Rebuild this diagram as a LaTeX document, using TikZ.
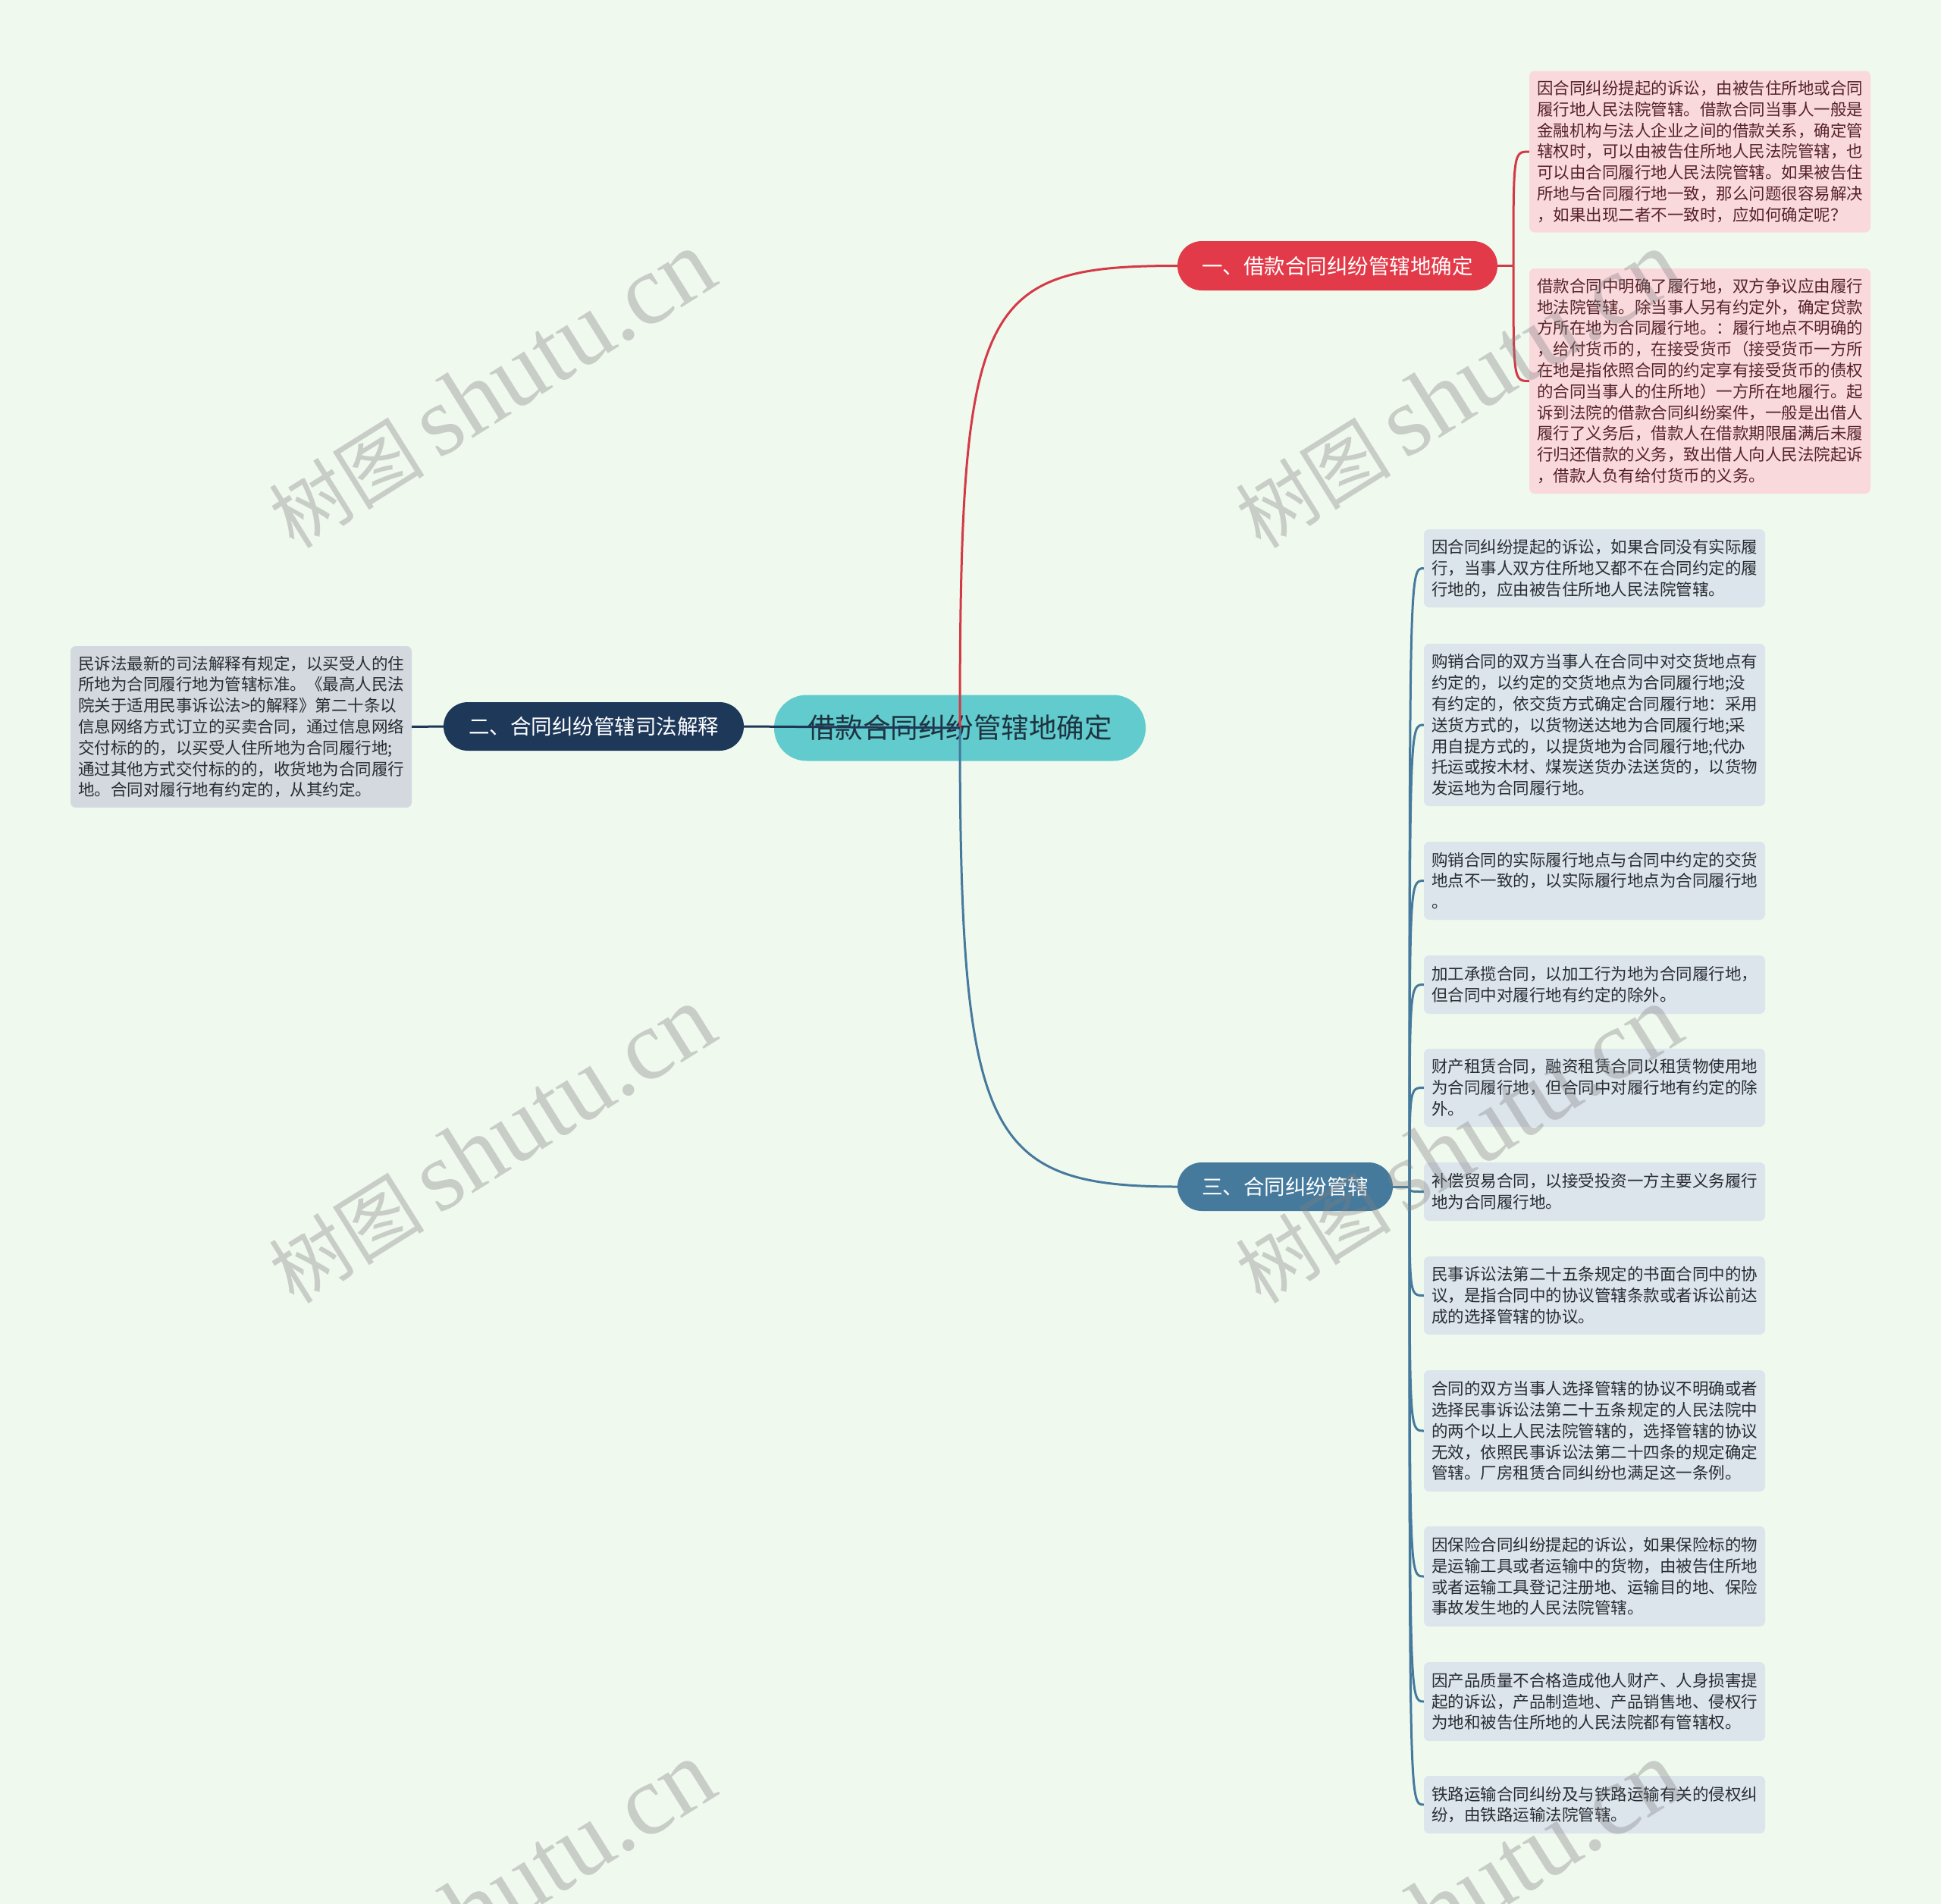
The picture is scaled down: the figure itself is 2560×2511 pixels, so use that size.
\documentclass[tikz,border=0pt]{standalone}
\usepackage{fontspec}
\setmainfont{Noto Sans CJK SC}
\newfontfamily\wmlatin{Liberation Serif}
\usetikzlibrary{calc}
\definecolor{bgc}{RGB}{240,249,238}
\definecolor{pinkbox}{RGB}{250,217,221}
\definecolor{pinktext}{RGB}{85,35,40}
\definecolor{redc}{RGB}{226,58,72}
\definecolor{redline}{RGB}{212,58,70}
\definecolor{darkc}{RGB}{30,56,90}
\definecolor{bluec}{RGB}{70,122,157}
\definecolor{centerc}{RGB}{98,203,205}
\definecolor{centertext}{RGB}{30,52,64}
\definecolor{leafblue}{RGB}{220,228,236}
\definecolor{leaftext}{RGB}{40,45,50}
\definecolor{greybox}{RGB}{212,217,224}
\tikzset{
  leafbase/.style={rectangle, rounded corners=7pt, inner xsep=10pt, inner ysep=0pt,
    text width=430pt, align=left, minimum width=450pt,
    font=\fontsize{21.5}{27.8}\selectfont},
  bleaf/.style={leafbase, fill=leafblue, text=leaftext},
  pleaf/.style={leafbase, fill=pinkbox, text=pinktext},
  gleaf/.style={leafbase, fill=greybox, text=leaftext},
  branchbox/.style={rectangle, rounded corners=32pt, inner xsep=0pt, inner ysep=0pt,
    minimum height=64pt, text=white, font=\fontsize{27.5}{30}\selectfont},
  centerbox/.style={rectangle, rounded corners=43pt, fill=centerc, inner sep=0pt,
    minimum width=490pt, minimum height=87pt, text=centertext,
    font=\fontsize{36.5}{40}\selectfont},
  redln/.style={draw=redline, line width=3pt},
  blueln/.style={draw=bluec, line width=3pt},
  darkln/.style={draw=darkc, line width=3pt},
  wm/.style={text=gray, opacity=0.35, rotate=32, inner sep=0pt}
}
\begin{document}
\begin{tikzpicture}[x=1pt,y=-1pt]
\fill[bgc] (0,0) rectangle (2560,2511);
\useasboundingbox (0,0) rectangle (2560,2511);

% central and branch nodes
\node[centerbox] (c) at (1266,960) {借款合同纠纷管辖地确定};
\node[branchbox, fill=redc, minimum width=422pt, minimum height=65pt] (r) at (1764,350.5) {一、借款合同纠纷管辖地确定};
\node[branchbox, fill=darkc, minimum width=396pt] (d) at (783,958) {二、合同纠纷管辖司法解释};
\node[branchbox, fill=bluec, minimum width=284pt] (b) at (1695,1565) {三、合同纠纷管辖};

% pink leaves
\node[pleaf, minimum height=213pt] (p1) at (2242,200) {因合同纠纷提起的诉讼，由被告住所地或合同\\履行地人民法院管辖。借款合同当事人一般是\\金融机构与法人企业之间的借款关系，确定管\\辖权时，可以由被告住所地人民法院管辖，也\\可以由合同履行地人民法院管辖。如果被告住\\所地与合同履行地一致，那么问题很容易解决\\，如果出现二者不一致时，应如何确定呢？};
\node[pleaf, minimum height=297pt] (p2) at (2242,502.5) {借款合同中明确了履行地，双方争议应由履行\\地法院管辖。除当事人另有约定外，确定贷款\\方所在地为合同履行地。：履行地点不明确的\\，给付货币的，在接受货币（接受货币一方所\\在地是指依照合同的约定享有接受货币的债权\\的合同当事人的住所地）一方所在地履行。起\\诉到法院的借款合同纠纷案件，一般是出借人\\履行了义务后，借款人在借款期限届满后未履\\行归还借款的义务，致出借人向人民法院起诉\\，借款人负有给付货币的义务。};

% left leaf
\node[gleaf, minimum height=213pt] (g1) at (318,958.5) {民诉法最新的司法解释有规定，以买受人的住\\所地为合同履行地为管辖标准。《最高人民法\\院关于适用民事诉讼法>的解释》第二十条以\\信息网络方式订立的买卖合同，通过信息网络\\交付标的的，以买受人住所地为合同履行地;\\通过其他方式交付标的的，收货地为合同履行\\地。合同对履行地有约定的，从其约定。};

% blue leaves
\node[bleaf, minimum height=103pt] (l1) at (2103,749.5) {因合同纠纷提起的诉讼，如果合同没有实际履\\行，当事人双方住所地又都不在合同约定的履\\行地的，应由被告住所地人民法院管辖。};
\node[bleaf, minimum height=214pt] (l2) at (2103,956) {购销合同的双方当事人在合同中对交货地点有\\约定的，以约定的交货地点为合同履行地;没\\有约定的，依交货方式确定合同履行地：采用\\送货方式的，以货物送达地为合同履行地;采\\用自提方式的，以提货地为合同履行地;代办\\托运或按木材、煤炭送货办法送货的，以货物\\发运地为合同履行地。};
\node[bleaf, minimum height=103pt] (l3) at (2103,1161.5) {购销合同的实际履行地点与合同中约定的交货\\地点不一致的，以实际履行地点为合同履行地\\。};
\node[bleaf, minimum height=77pt] (l4) at (2103,1298.5) {加工承揽合同，以加工行为地为合同履行地，\\但合同中对履行地有约定的除外。};
\node[bleaf, minimum height=103pt] (l5) at (2103,1434.5) {财产租赁合同，融资租赁合同以租赁物使用地\\为合同履行地，但合同中对履行地有约定的除\\外。};
\node[bleaf, minimum height=77pt] (l6) at (2103,1571.5) {补偿贸易合同，以接受投资一方主要义务履行\\地为合同履行地。};
\node[bleaf, minimum height=103pt] (l7) at (2103,1708.5) {民事诉讼法第二十五条规定的书面合同中的协\\议，是指合同中的协议管辖条款或者诉讼前达\\成的选择管辖的协议。};
\node[bleaf, minimum height=160pt] (l8) at (2103,1887) {合同的双方当事人选择管辖的协议不明确或者\\选择民事诉讼法第二十五条规定的人民法院中\\的两个以上人民法院管辖的，选择管辖的协议\\无效，依照民事诉讼法第二十四条的规定确定\\管辖。厂房租赁合同纠纷也满足这一条例。};
\node[bleaf, minimum height=132pt] (l9) at (2103,2079) {因保险合同纠纷提起的诉讼，如果保险标的物\\是运输工具或者运输中的货物，由被告住所地\\或者运输工具登记注册地、运输目的地、保险\\事故发生地的人民法院管辖。};
\node[bleaf, minimum height=104pt] (l10) at (2103,2244) {因产品质量不合格造成他人财产、人身损害提\\起的诉讼，产品制造地、产品销售地、侵权行\\为地和被告住所地的人民法院都有管辖权。};
\node[bleaf, minimum height=76pt] (l11) at (2103,2380) {铁路运输合同纠纷及与铁路运输有关的侵权纠\\纷，由铁路运输法院管辖。};

% junction points
\coordinate (rj) at (1996,350.5);
\coordinate (bj) at (1859,1565);

% connectors
\draw[redln] (c.center) .. controls (1266,400) and (1290,350.5) .. (r.west);
\draw[blueln] (c.center) .. controls (1266,1500) and (1300,1565) .. (b.west);
\draw[darkln] (c.center) -- (d.east);
\draw[darkln] (d.west) -- (g1.east);
\draw[redln] (r.east) -- (rj);
\foreach \n in {p1,p2} {
  \draw[redln] (rj) .. controls (rj |- \n.west) .. (\n.west);
}
\draw[blueln] (b.east) -- (bj);
\foreach \n in {l1,l2,l3,l4,l5,l6,l7,l8,l9,l10,l11} {
  \draw[blueln] (bj) .. controls (bj |- \n.west) .. (\n.west);
}

% watermarks
\foreach \i/\px/\py in {1/648/514, 2/1923/514, 3/648/1510, 4/1923/1510, 5/648/2506, 6/1923/2506} {
  \node[wm] (w\i) at (\px,\py) {{\fontsize{103}{103}\selectfont 树图}\hspace{18pt}{\wmlatin\fontsize{131}{131}\selectfont shutu.cn}};
}
\end{tikzpicture}
\end{document}
